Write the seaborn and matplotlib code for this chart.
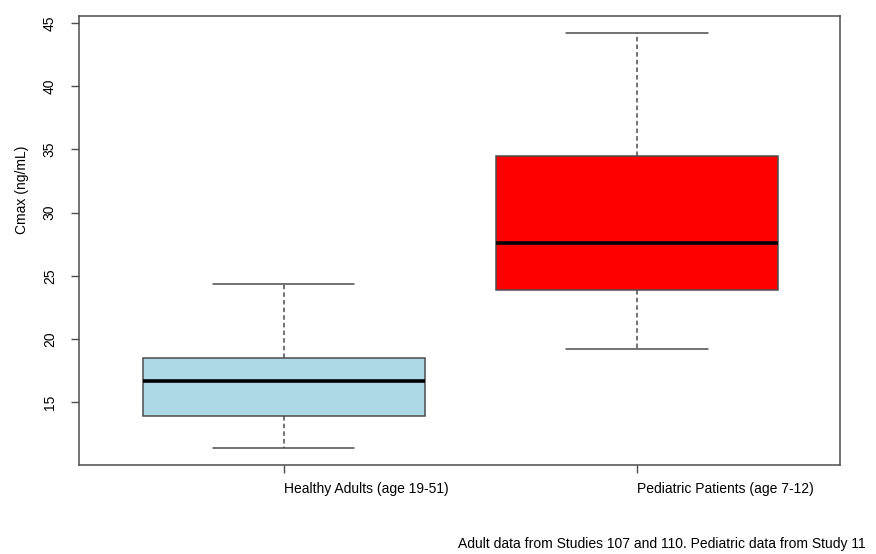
#Cmax boxplot - adults vs pediatric patients___________________________________

import numpy as np
import pandas as pd
import seaborn as sns
import matplotlib.pyplot as plt

#values (min, Q1, median, Q3, max per group)
groups = ['Healthy Adults (age 19-51)', 'Pediatric Patients (age 7-12)']
adults_cmax = [11.37, 13.91, 16.67, 18.44, 24.37]
pediatric_cmax = [19.21, 23.86, 27.57, 34.47, 44.26]
box_colors = ['#ADD8E6', '#FF0000']
y_ticks = [15, 20, 25, 30, 35, 40, 45]
footnote = 'Adult data from Studies 107 and 110. Pediatric data from Study 11'

df = pd.DataFrame({
    'group': [groups[0]] * len(adults_cmax) + [groups[1]] * len(pediatric_cmax),
    'cmax': adults_cmax + pediatric_cmax,
})

sns.set_style('ticks')
plt.rcParams['font.family'] = ['Liberation Sans', 'DejaVu Sans']
plt.rcParams['text.color'] = 'black'
plt.rcParams['xtick.labelcolor'] = 'black'
plt.rcParams['ytick.labelcolor'] = 'black'

fig = plt.figure(figsize=(8.76, 5.54), dpi=100)
ax = fig.add_axes([0.0902, 0.1606, 0.8687, 0.8111])

line_col = '#4d4d4d'
sns.boxplot(data=df, x='group', y='cmax', hue='group', palette=box_colors,
            saturation=1, width=0.8, whis=1.5, linecolor=line_col, linewidth=1.1,
            medianprops=dict(color='black', linewidth=2.6),
            whiskerprops=dict(linestyle=(0, (3, 2)), color=line_col),
            capprops=dict(color=line_col), legend=False, ax=ax)

ax.set_xlim(-0.58, 1.575)
ax.set_ylim(10.0, 45.6)
ax.set_yticks(y_ticks)
ax.set_yticklabels([str(t) for t in y_ticks], rotation=90, va='center', fontsize=10)
ax.set_xticks([0, 1])
ax.set_xticklabels(groups, ha='left', fontsize=10)
ax.tick_params(axis='y', length=6, width=1, color=line_col, pad=10)
ax.tick_params(axis='x', length=6, width=1, color=line_col, pad=6)
for side in ['left', 'right', 'top', 'bottom']:
    ax.spines[side].set_visible(True)
    ax.spines[side].set_color(line_col)
    ax.spines[side].set_linewidth(1.1)

ax.set_xlabel('')
ax.set_ylabel('Cmax (ng/mL)', fontsize=10, color='black')
ax.yaxis.set_label_coords(-0.066, 0.612)

fig.text(458 / 876, 1 - 544 / 554, footnote, fontsize=10, ha='left', va='center')

fig.savefig('out.png', dpi=100)
